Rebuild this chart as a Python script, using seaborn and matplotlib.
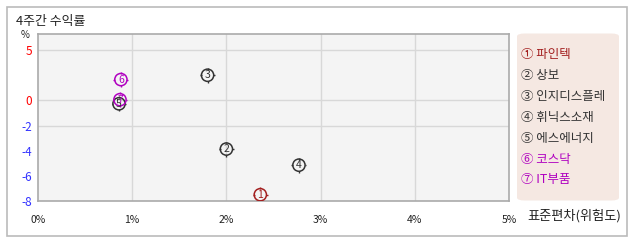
import numpy as np
import pandas as pd
import matplotlib
matplotlib.use("Agg")
import matplotlib.pyplot as plt
from matplotlib.path import Path
from matplotlib.patches import FancyBboxPatch, Rectangle
import seaborn as sns

# ---- data ----
names = ["파인텍", "상보", "인지디스플레", "휘닉스소재", "에스에너지", "코스닥", "IT부품"]
labels = ["1", "2", "3", "4", "5", "6", "7"]
circled = ["①", "②", "③", "④", "⑤", "⑥", "⑦"]
risk = [2.36, 2.00, 1.80, 2.77, 0.86, 0.88, 0.87]        # 표준편차 (%)
ret = [-7.5, -3.87, 2.5, -5.15, -0.27, 2.07, 0.07]       # 4주간 수익률 (%)
groups = ["sel", "stock", "stock", "stock", "stock", "idx", "idx"]
xticks = [0, 1, 2, 3, 4, 5]
yticks = [5, 0, -2, -4, -6, -8]
ygrid = [5, 0, -2]

palette = {"sel": "#a31f1f", "stock": "#333333", "idx": "#b000c0"}

df = pd.DataFrame({"name": names, "lab": labels, "risk": risk, "ret": ret, "grp": groups})

sns.set_theme(style="white")
plt.rcParams["font.family"] = ["Noto Sans CJK KR", "DejaVu Sans"]

fig = plt.figure(figsize=(6.38, 2.42), dpi=100)
fig.patch.set_facecolor("white")
# outer frame
fig.patches.append(Rectangle((6.5 / 638, 1 - 235.5 / 242), 620.5 / 638, 229 / 242,
                             transform=fig.transFigure, facecolor="white",
                             edgecolor="#bbbbbb", linewidth=1.2, zorder=-5))

ax = fig.add_axes([38 / 638, 1 - 201 / 242, 471 / 638, 167 / 242])
ax.set_zorder(3)
ax.set_facecolor("#f4f4f4")


def fwd(y):
    y = np.asarray(y, dtype=float)
    return np.where(y >= 0, y, 1.25 * y)


def inv(y):
    y = np.asarray(y, dtype=float)
    return np.where(y >= 0, y, y / 1.25)


ax.set_yscale("function", functions=(fwd, inv))
ax.set_xlim(0, 5)
ax.set_ylim(-8, 6.6)

# tick crosses around markers
tick_path = Path([(0, 0.75), (0, 1), (0, -0.75), (0, -1), (0.75, 0), (1, 0), (-0.75, 0), (-1, 0)],
                 [Path.MOVETO, Path.LINETO] * 4)

sns.scatterplot(data=df, x="risk", y="ret", hue="grp", palette=palette, marker="o",
                s=78, linewidth=1.1, legend=False, ax=ax, zorder=3)
ax.collections[0].set_edgecolor([palette[g] for g in groups])
ax.collections[0].set_facecolor("none")
sns.scatterplot(data=df, x="risk", y="ret", hue="grp", palette=palette, marker=tick_path,
                s=115, linewidth=1.0, legend=False, ax=ax, zorder=3)
ax.collections[1].set_edgecolor([palette[g] for g in groups])

for xi, yi, lab, g in zip(risk, ret, labels, groups):
    ax.text(xi, yi, lab, ha="center", va="center", fontsize=7.5, color=palette[g], zorder=4)

# axes styling
ax.set_xticks(xticks)
ax.set_xticklabels([f"{v}%" for v in xticks], fontsize=7.5, color="#222222")
ax.set_yticks(yticks)
ax.set_yticklabels([str(v) for v in yticks], fontsize=8.5)
for t, v in zip(ax.get_yticklabels(), yticks):
    t.set_color("#ff0000" if v >= 0 else "#3333ff")
ax.tick_params(axis="both", length=0, pad=4)
ax.tick_params(axis="x", pad=10)
ax.grid(True, color="#d8d8d8", linewidth=1.0)
for tk, v in zip(ax.yaxis.get_major_ticks(), yticks):
    tk.gridline.set_visible(v in ygrid)
for tk, v in zip(ax.xaxis.get_major_ticks(), xticks):
    tk.gridline.set_visible(0 < v < 5)
for sp in ax.spines.values():
    sp.set_color("#aaaaaa")
    sp.set_linewidth(1.2)
ax.set_xlabel("")
ax.set_ylabel("")

# titles
fig.text(16 / 638, 1 - 21 / 242, "4주간 수익률", fontsize=9.3, color="#222222", va="center", ha="left")
fig.text(25 / 638, 1 - 35 / 242, "%", fontsize=7, color="#222222", va="center", ha="center")
fig.text(527 / 638, 1 - 216 / 242, "표준편차(위험도)", fontsize=9.5, color="#222222", va="center", ha="left")

# legend box
fig.patches.append(FancyBboxPatch((517 / 638, 1 - 200.5 / 242), 102 / 638, 167 / 242,
                                  boxstyle="round,pad=0,rounding_size=0.012",
                                  transform=fig.transFigure, facecolor="#f5e8e2",
                                  edgecolor="none", zorder=1))
for i, (cc, nm, g) in enumerate(zip(circled, names, groups)):
    y = 54.5 + i * 20.9
    fig.text(521 / 638, 1 - y / 242, f"{cc} {nm}", fontsize=9, color=palette[g],
             va="center", ha="left", zorder=2)

fig.savefig("out.png", dpi=100)
